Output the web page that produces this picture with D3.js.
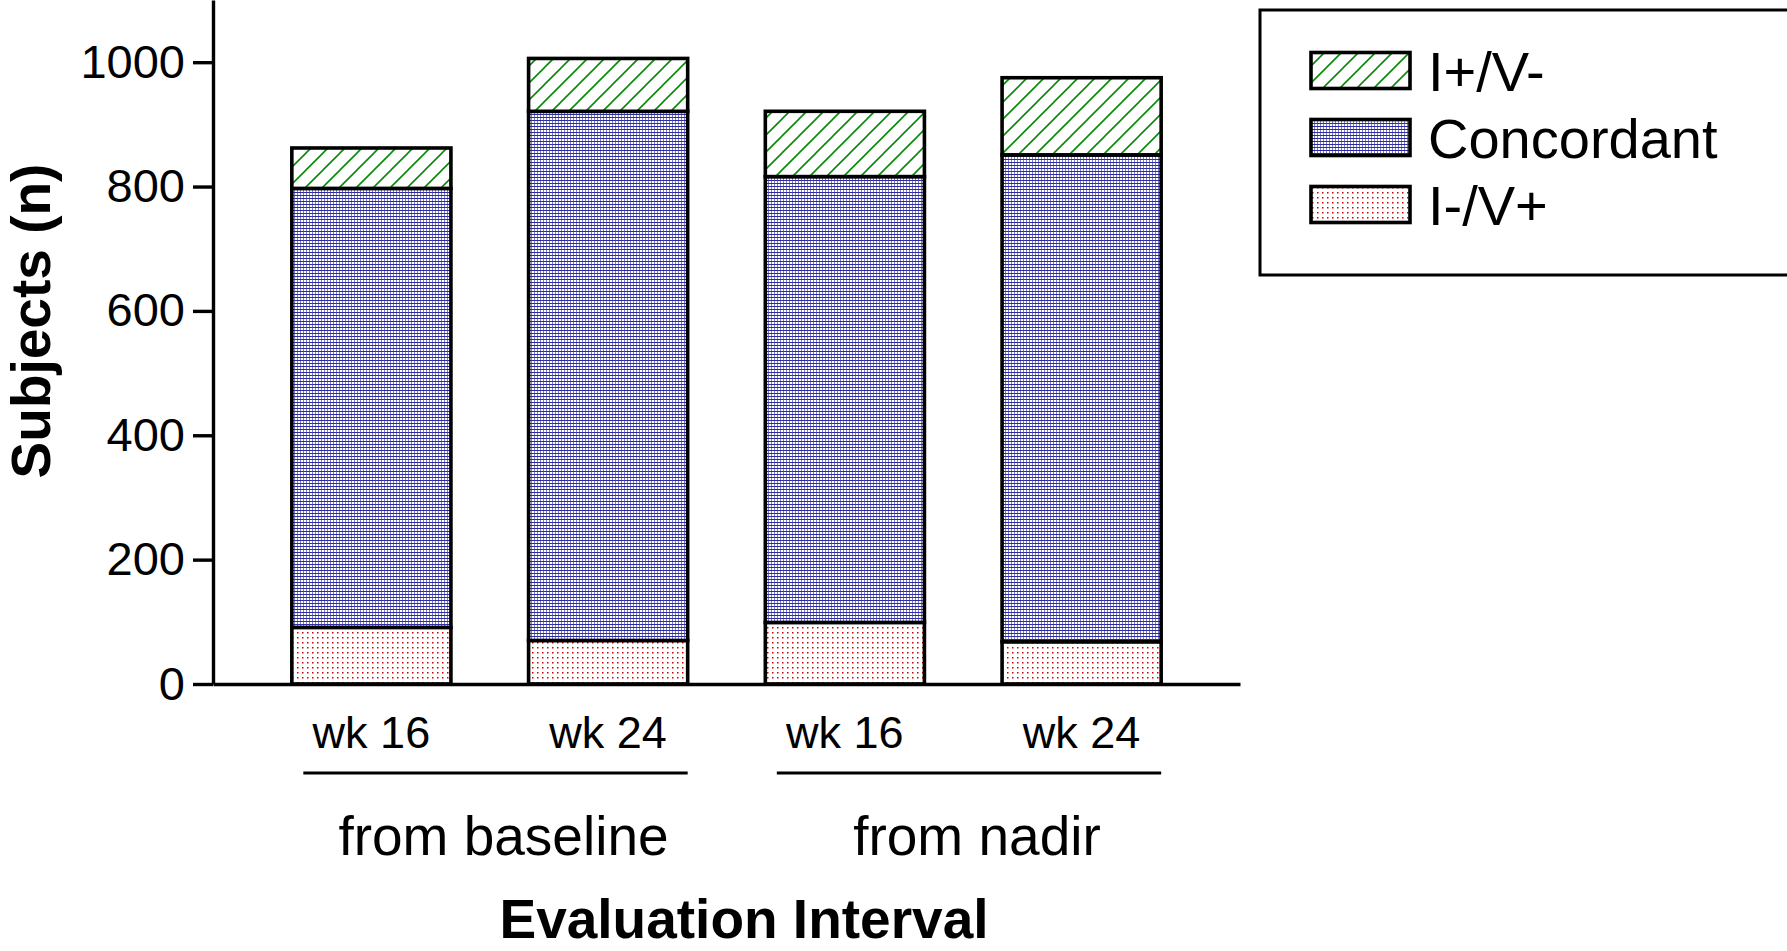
<!DOCTYPE html>
<html>
<head>
<meta charset="utf-8">
<script src="https://cdn.jsdelivr.net/npm/d3@7"></script>
<style>
  html, body { margin: 0; padding: 0; background: #fff; }
  svg { display: block; }
  text { font-family: "Liberation Sans", Arial, Helvetica, sans-serif; fill: #000; }
</style>
</head>
<body>
<script>
// ---- data ----
const barIds = ["b16", "b24", "n16", "n24"];
const barLabels = ["wk 16", "wk 24", "wk 16", "wk 24"];
const groupNames = ["from baseline", "from nadir"];
const groupMembers = [["b16", "b24"], ["n16", "n24"]];
const seriesNames = ["I-/V+", "Concordant", "I+/V-"];   // bottom to top
const discordIneg = [91, 70, 99, 68];        // I-/V+
const concordant = [706, 851, 717, 783];     // Concordant
const discordIpos = [65, 85, 105, 124];      // I+/V-
const yTicks = [0, 200, 400, 600, 800, 1000];
const legendOrder = ["I+/V-", "Concordant", "I-/V+"];

// ---- layout ----
const W = 1787, H = 951;
const svg = d3.select("body").append("svg").attr("width", W).attr("height", H);

const defs = svg.append("defs");
// hatch (I+/V-)
const ph = defs.append("pattern").attr("id", "pHatch").attr("patternUnits", "userSpaceOnUse")
  .attr("width", 17).attr("height", 17);
ph.append("rect").attr("width", 17).attr("height", 17).attr("fill", "#fff");
ph.append("path").attr("d", "M0,17L17,0M-2,2L2,-2M15,19L19,15")
  .attr("stroke", "#0a8a0a").attr("stroke-width", 1.6);
// fine blue grid (Concordant)
const pg = defs.append("pattern").attr("id", "pGrid").attr("patternUnits", "userSpaceOnUse")
  .attr("width", 3).attr("height", 3);
pg.append("rect").attr("width", 3).attr("height", 3).attr("fill", "#fff");
pg.append("rect").attr("x", 0).attr("y", 0).attr("width", 3).attr("height", 1).attr("fill", "#2c2ca0");
pg.append("rect").attr("x", 0).attr("y", 0).attr("width", 1).attr("height", 3).attr("fill", "#3434a8").attr("opacity", 0.65);
// red dots (I-/V+)
const pd = defs.append("pattern").attr("id", "pDots").attr("patternUnits", "userSpaceOnUse")
  .attr("width", 5).attr("height", 5);
pd.append("rect").attr("width", 5).attr("height", 5).attr("fill", "#fff");
pd.append("rect").attr("x", 2).attr("y", 2).attr("width", 1.5).attr("height", 1.5).attr("fill", "#d00000");

const fills = { "I+/V-": "url(#pHatch)", "Concordant": "url(#pGrid)", "I-/V+": "url(#pDots)" };

const x = d3.scaleBand().domain(barIds).range([213, 1240]).paddingInner(0.328).paddingOuter(0.333);
const y = d3.scaleLinear().domain([0, 1100]).range([684, 0]);

// stacked data
const rows = barIds.map((id, i) => ({ id, "I-/V+": discordIneg[i], "Concordant": concordant[i], "I+/V-": discordIpos[i] }));
const stacked = d3.stack().keys(seriesNames)(rows);

const gBars = svg.append("g");
stacked.forEach(layer => {
  gBars.selectAll(null).data(layer).enter().append("rect")
    .attr("x", d => x(d.data.id))
    .attr("y", d => y(d[1]))
    .attr("width", x.bandwidth())
    .attr("height", d => y(d[0]) - y(d[1]))
    .attr("fill", fills[layer.key])
    .attr("stroke", "#000").attr("stroke-width", 3.6);
});

// y axis
const yAxis = svg.append("g").attr("transform", "translate(213,0)")
  .call(d3.axisLeft(y).tickValues(yTicks).tickSize(20).tickSizeOuter(0).tickPadding(8).tickFormat(d3.format("d")));
yAxis.select(".domain").attr("stroke", "#000").attr("stroke-width", 3.4);
yAxis.selectAll(".tick line").attr("stroke", "#000").attr("stroke-width", 3.4);
yAxis.selectAll(".tick text").attr("font-size", 47).attr("font-family", "Liberation Sans, Arial, sans-serif").attr("fill", "#000");

// x axis
const xAxis = svg.append("g").attr("transform", "translate(0,684)")
  .call(d3.axisBottom(x).tickSize(0).tickSizeOuter(0).tickFormat((d, i) => barLabels[i]));
xAxis.select(".domain").attr("stroke", "#000").attr("stroke-width", 3.4);
xAxis.selectAll(".tick text").attr("font-size", 45).attr("y", 64).attr("dy", 0)
  .attr("font-family", "Liberation Sans, Arial, sans-serif").attr("fill", "#000");

// group underlines and names
groupNames.forEach((name, gi) => {
  const a = groupMembers[gi][0], b = groupMembers[gi][1];
  const x0 = x(a) + 11.5, x1 = x(b) + x.bandwidth();
  svg.append("line").attr("x1", x0).attr("x2", x1).attr("y1", 773).attr("y2", 773)
    .attr("stroke", "#000").attr("stroke-width", 3);
  svg.append("text").attr("x", (x0 + x1) / 2 + 8).attr("y", 855)
    .attr("text-anchor", "middle").attr("font-size", 55).text(name);
});

// axis titles
svg.append("text").attr("x", 744).attr("y", 938).attr("text-anchor", "middle")
  .attr("font-size", 55).attr("font-weight", "bold").text("Evaluation Interval");
svg.append("text").attr("transform", "translate(50,321) rotate(-90)").attr("text-anchor", "middle")
  .attr("font-size", 55).attr("font-weight", "bold").text("Subjects (n)");

// legend
const lg = svg.append("g");
lg.append("rect").attr("x", 1260).attr("y", 10).attr("width", 600).attr("height", 265)
  .attr("fill", "#fff").attr("stroke", "#000").attr("stroke-width", 3);
legendOrder.forEach((name, i) => {
  const cy = 70.5 + i * 67;
  lg.append("rect").attr("x", 1311).attr("y", cy - 18).attr("width", 99).attr("height", 36)
    .attr("fill", fills[name]).attr("stroke", "#000").attr("stroke-width", 3.6);
  lg.append("text").attr("x", 1428).attr("y", cy + 20).attr("font-size", 56).text(name);
});
</script>
</body>
</html>
